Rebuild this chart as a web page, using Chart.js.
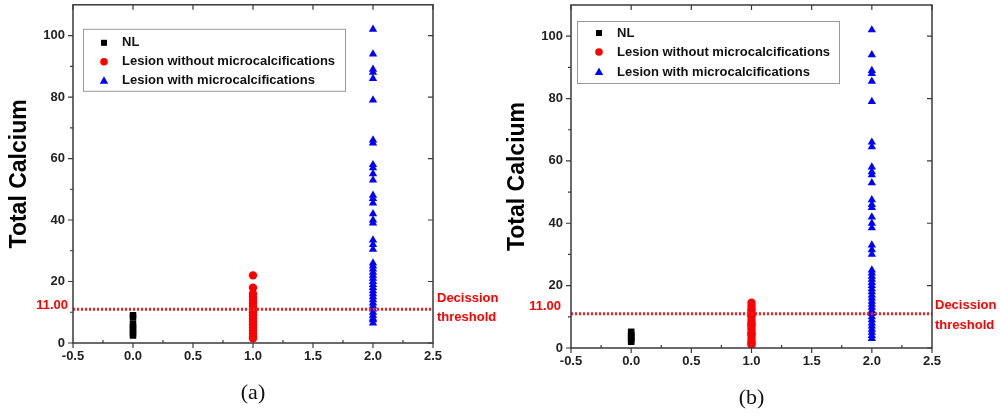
<!DOCTYPE html>
<html>
<head>
<meta charset="utf-8">
<script src="https://cdn.jsdelivr.net/npm/chart.js@4.4.1/dist/chart.umd.min.js"></script>
<style>
  html, body { margin: 0; padding: 0; background: #fff; }
  #wrap { position: relative; width: 1000px; height: 419px; overflow: hidden; }
  .panel { position: absolute; top: 0; width: 500px; height: 419px; }
</style>
</head>
<body>
<div id="wrap">
  <div class="panel" style="left:0"><canvas id="chartA" width="500" height="419"></canvas></div>
  <div class="panel" style="left:500px"><canvas id="chartB" width="500" height="419"></canvas></div>
</div>
<script>
// --- data ---
const seriesNames = ['NL', 'Lesion without microcalcifications', 'Lesion with microcalcifications'];
const groupX = [0, 1, 2];
const threshold = 11;
const thresholdNote = ['Decission', 'threshold'];
const yTitle = 'Total Calcium';

// panel (a)
const nlA = [9, 8.3, 6.2, 5.2, 4.2, 3.2, 2.4];
const noMicroA = [22, 18, 16, 15, 14, 13, 12, 11, 10, 9, 8, 7, 6, 5, 4, 3, 2, 1.5];
const withMicroA = [102, 94, 89, 88, 86, 79, 66, 65, 58, 57, 55, 53, 48, 47, 45.5, 42, 40, 39,
  33.5, 32, 30.5, 26, 25, 24, 23, 22, 21, 20, 19, 18, 17, 16, 15, 14, 13, 12, 11, 10, 9, 8, 7.5, 6.5];

// panel (b)
const nlB = [5.2, 4.5, 3.8, 3.2, 2.5, 2];
const noMicroB = [14.5, 13.5, 12.5, 12, 11, 10.5, 10, 9, 8, 7.5, 7, 6, 5, 4.5, 4, 3, 2, 1.5, 1];
const withMicroB = [102, 94, 89, 88, 85.5, 79, 66, 64.5, 58, 56.5, 55.5, 53, 47.5, 46, 45, 42, 40, 38.5,
  33, 31.5, 30, 25, 24, 23, 22, 21, 20, 19, 18, 17, 16, 15, 14, 13, 12, 11, 10, 9, 8, 7, 6, 5, 4, 3];

const xRange = [-0.5, 2.5];
const yRange = [0, 110];

const FONT = '"Liberation Sans", Arial, sans-serif';
const COLORS = ['#000000', '#ff0000', '#0000ff'];
const STYLES = ['rect', 'circle', 'triangle'];
const RADII = [4.6, 4.2, 4.8];

function toPoints(x, values) {
  return values.map(v => ({ x: x, y: v }));
}

// legend marker, drawn by hand so the sizes match the figure
function drawMarker(ctx, style, cx, cy) {
  ctx.beginPath();
  if (style === 'rect') {
    ctx.rect(cx - 3, cy - 3, 6, 6);
  } else if (style === 'circle') {
    ctx.arc(cx, cy, 3.8, 0, Math.PI * 2);
  } else {
    ctx.moveTo(cx, cy - 4.5);
    ctx.lineTo(cx + 4.2, cy + 3);
    ctx.lineTo(cx - 4.2, cy + 3);
    ctx.closePath();
  }
  ctx.fill();
}

const framePlugin = {
  id: 'frame',
  afterDraw(chart, args, opts) {
    const { ctx, chartArea: a } = chart;
    const xs = chart.scales.x, ys = chart.scales.y;
    ctx.save();

    // frame + ticks
    ctx.strokeStyle = '#3a3a3a';
    ctx.lineWidth = 1.5;
    ctx.strokeRect(a.left, a.top, a.right - a.left, a.bottom - a.top);
    ctx.lineWidth = 1.2;
    ctx.beginPath();
    xs.ticks.forEach(t => {
      const px = xs.getPixelForValue(t.value);
      ctx.moveTo(px, a.bottom); ctx.lineTo(px, a.bottom + 5);
      ctx.moveTo(px, a.top); ctx.lineTo(px, a.top + 5);
      if (t.value + 0.25 < xs.max) {
        const mx = xs.getPixelForValue(t.value + 0.25);
        ctx.moveTo(mx, a.bottom); ctx.lineTo(mx, a.bottom - 3);
      }
    });
    ys.ticks.forEach(t => {
      const py = ys.getPixelForValue(t.value);
      ctx.moveTo(a.left, py); ctx.lineTo(a.left - 5, py);
      ctx.moveTo(a.right, py); ctx.lineTo(a.right - 5, py);
      if (t.value + 10 < ys.max) {
        const my = ys.getPixelForValue(t.value + 10);
        ctx.moveTo(a.left, my); ctx.lineTo(a.left - 3, my);
      }
    });
    ctx.stroke();

    // threshold labels
    const ty = ys.getPixelForValue(threshold);
    ctx.fillStyle = '#ff0000';
    ctx.font = 'bold 13px ' + FONT;
    ctx.textBaseline = 'middle';
    ctx.textAlign = 'right';
    ctx.fillText(threshold.toFixed(2), a.left - opts.valueGap, ty + opts.valueDy);
    ctx.textAlign = 'left';
    thresholdNote.forEach((line, i) => {
      ctx.fillText(line, a.right + opts.noteGap, ty + opts.noteDy[i]);
    });

    // legend box
    const lg = opts.legend;
    const bx = a.left + lg.dx, by = a.top + lg.dy;
    ctx.fillStyle = '#ffffff';
    ctx.fillRect(bx, by, lg.w, lg.h);
    ctx.strokeStyle = '#9a9a9a';
    ctx.lineWidth = 1;
    ctx.strokeRect(bx + 0.5, by + 0.5, lg.w, lg.h);
    chart.data.datasets.forEach(ds => {
      if (ds.legendIndex === undefined) return;
      const i = ds.legendIndex;
      const ry = by + lg.rows[i];
      ctx.fillStyle = ds.backgroundColor;
      drawMarker(ctx, ds.pointStyle, bx + lg.markerX, ry);
      ctx.fillStyle = '#111111';
      ctx.fillText(ds.label, bx + lg.textX, ry);
    });
    ctx.restore();
  }
};

function makeChart(canvasId, caption, nl, noMicro, withMicro, layout) {
  const groups = [nl, noMicro, withMicro];
  const datasets = [{
    type: 'line',
    label: 'threshold',
    data: [{ x: xRange[0], y: threshold }, { x: xRange[1], y: threshold }],
    borderColor: '#ff1a1a',
    borderWidth: 3,
    borderDash: [2, 2],
    pointRadius: 0,
    order: 0
  }];
  groups.forEach((vals, i) => {
    datasets.push({
      label: seriesNames[i],
      legendIndex: i,
      data: toPoints(groupX[i], vals),
      backgroundColor: COLORS[i],
      borderColor: COLORS[i],
      borderWidth: 0,
      pointStyle: STYLES[i],
      pointRadius: RADII[i],
      order: i + 1
    });
  });

  return new Chart(document.getElementById(canvasId), {
    type: 'scatter',
    data: { datasets },
    options: {
      responsive: false,
      animation: false,
      devicePixelRatio: 1,
      layout: { padding: layout.padding },
      scales: {
        x: {
          type: 'linear',
          min: xRange[0],
          max: xRange[1],
          grid: { display: false, drawTicks: false, tickLength: 0 },
          border: { display: false },
          ticks: {
            stepSize: 0.5,
            padding: 6,
            color: '#222',
            font: { family: FONT, size: 13, weight: 'bold' },
            callback: v => v.toFixed(1)
          },
          title: {
            display: true,
            text: caption,
            color: '#111',
            padding: 0,
            font: { family: '"Liberation Serif", "Times New Roman", serif', size: 22 }
          },
          afterFit: s => {
            s.height = layout.xHeight;
            s.paddingLeft = 0;
            s.paddingRight = 0;
          }
        },
        y: {
          type: 'linear',
          min: yRange[0],
          max: yRange[1],
          grid: { display: false, drawTicks: false, tickLength: 0 },
          border: { display: false },
          ticks: {
            stepSize: 20,
            includeBounds: false,
            padding: 8,
            color: '#222',
            font: { family: FONT, size: 13, weight: 'bold' }
          },
          title: {
            display: true,
            text: yTitle,
            color: '#000',
            padding: 0,
            font: { family: FONT, size: 23, weight: 'bold' }
          },
          afterFit: s => {
            s.width = layout.yWidth;
            s.paddingTop = 0;
            s.paddingBottom = 0;
          }
        }
      },
      plugins: {
        legend: { display: false },
        tooltip: { enabled: false },
        frame: layout.frame
      }
    },
    plugins: [framePlugin]
  });
}

makeChart('chartA', '(a)', nlA, noMicroA, withMicroA, {
  padding: { left: 6, top: 1, right: 67, bottom: 13 },
  yWidth: 67,
  xHeight: 63,
  frame: {
    valueGap: 5, valueDy: -4, noteGap: 4, noteDy: [-11, 8],
    legend: { dx: 10, dy: 24, w: 262, h: 62, rows: [14, 33, 52], markerX: 21, textX: 39 }
  }
});

makeChart('chartB', '(b)', nlB, noMicroB, withMicroB, {
  padding: { left: 4, top: 5, right: 68, bottom: 8 },
  yWidth: 67,
  xHeight: 63,
  frame: {
    valueGap: 10, valueDy: -7, noteGap: 3, noteDy: [-8, 12],
    legend: { dx: 6, dy: 16, w: 262, h: 62, rows: [12, 31, 51], markerX: 22, textX: 40 }
  }
});
</script>
</body>
</html>
